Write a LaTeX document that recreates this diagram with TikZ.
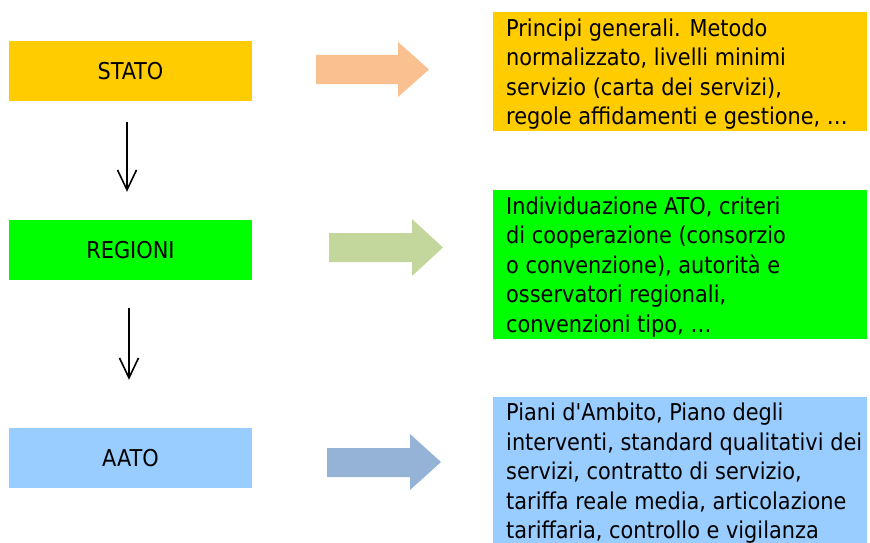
\documentclass[tikz,border=0pt]{standalone}
\usepackage{fontspec}
\setmainfont{DejaVu Sans Condensed}
\usetikzlibrary{arrows.meta}
\definecolor{cStato}{HTML}{FFCC00}
\definecolor{cReg}{HTML}{00FF00}
\definecolor{cAato}{HTML}{99CCFF}
\definecolor{aOr}{HTML}{FAC090}
\definecolor{aGr}{HTML}{C3D69B}
\definecolor{aBl}{HTML}{95B3D7}
\tikzset{
  lvlbox/.style={minimum width=243pt, minimum height=60pt, inner sep=0pt,
    font=\fontsize{23.2}{29.5}\selectfont},
  descbox/.style={anchor=north west, inner sep=0pt},
  desctext/.style={anchor=north west, inner sep=0pt, align=left,
    font=\fontsize{23.2}{29.5}\selectfont},
  downarr/.style={line width=1.6pt, -{Straight Barb[length=20pt,width=19pt]}},
}
\begin{document}
\begin{tikzpicture}[x=1pt,y=-1pt]
\useasboundingbox (0,0) rectangle (870,543);
% left level boxes
\node[lvlbox, fill=cStato] (stato) at (130.5,71) {STATO};
\node[lvlbox, fill=cReg] (regioni) at (130.5,250) {REGIONI};
\node[lvlbox, fill=cAato] (aato) at (130.5,458) {AATO};
% right description boxes
\node[descbox, fill=cStato, minimum width=374pt, minimum height=119pt] (dstato) at (493,12) {};
\node[descbox, fill=cReg, minimum width=374pt, minimum height=149pt] (dreg) at (493,190) {};
\node[descbox, fill=cAato, minimum width=374pt, minimum height=150pt] (daato) at (493,397) {};
\node[desctext] (tstato) at (506,18.6) {Principi generali. Metodo\\normalizzato, livelli minimi\\servizio (carta dei servizi),\\regole affidamenti e gestione, \dots};
\node[desctext] (treg) at (506,196.4) {Individuazione ATO, criteri\\di cooperazione (consorzio\\o convenzione), autorità e\\osservatori regionali,\\convenzioni tipo, \dots};
\node[desctext] (taato) at (506,403) {Piani d\textquotesingle Ambito, Piano degli\\interventi, standard qualitativi dei\\servizi, contratto di servizio,\\tariffa reale media, articolazione\\tariffaria, controllo e vigilanza};
% block arrows
\fill[aOr] (316,55) -- (398,55) -- (398,42) -- (429,69.5) -- (398,97) -- (398,84) -- (316,84) -- cycle;
\fill[aGr] (329,233) -- (412,233) -- (412,219) -- (443,247.5) -- (412,276) -- (412,262) -- (329,262) -- cycle;
\fill[aBl] (327,448) -- (410,448) -- (410,434) -- (441,462) -- (410,490) -- (410,477) -- (327,477) -- cycle;
% down arrows
\draw[downarr, shorten <=21pt, shorten >=28pt] ([xshift=-3.5pt]stato.south) -- ([xshift=-3.5pt]regioni.north);
\draw[downarr, shorten <=28pt, shorten >=48pt] ([xshift=-1.5pt]regioni.south) -- ([xshift=-1.5pt]aato.north);
\end{tikzpicture}
\end{document}
